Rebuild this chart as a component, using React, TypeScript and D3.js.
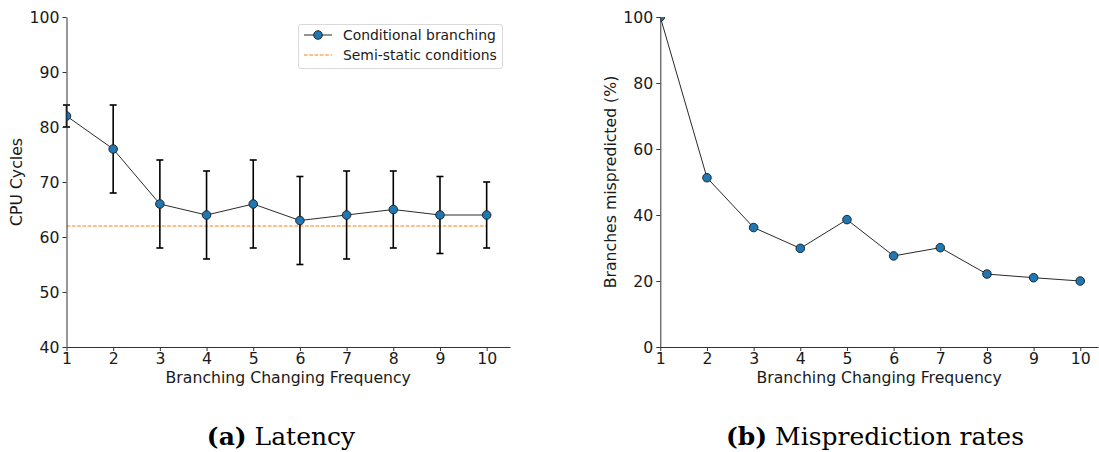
import React, { useEffect, useRef } from "react";
import * as d3 from "d3";

const freqs = [1, 2, 3, 4, 5, 6, 7, 8, 9, 10];
const latencyMean = [82, 76, 66, 64, 66, 63, 64, 65, 64, 64];
const latencyLow = [80, 68, 58, 56, 58, 55, 56, 58, 57, 58];
const latencyHigh = [84, 84, 74, 72, 74, 71, 72, 72, 71, 70];
const semiStatic = 62;
const mispredicted = [100, 51.3, 36.2, 29.9, 38.6, 27.6, 30.1, 22.1, 21.0, 20.0];
const latencyTicks = [40, 50, 60, 70, 80, 90, 100];
const mispTicks = [0, 20, 40, 60, 80, 100];

const W = 1099;
const H = 452;
const FONT = "'DejaVu Sans', sans-serif";
const BLUE = "#1f77b4";
const ORANGE = "#ff7f0e";
const FS = "15.7px";

export default function App() {
  const ref = useRef<SVGSVGElement | null>(null);

  useEffect(() => {
    const svg = d3.select(ref.current);
    svg.selectAll("*").remove();

    const defs = svg.append("defs");

    function panel(opts: {
      id: string;
      x0: number;
      x1: number;
      xMax: number;
      yDomain: [number, number];
      ticks: number[];
      ylabel: string;
      ylabelX: number;
      values: number[];
      low?: number[];
      high?: number[];
      hline?: number;
    }) {
      const top = 17;
      const bottom = 347;
      const x = d3.scaleLinear().domain([1, opts.xMax]).range([opts.x0, opts.x1]);
      const y = d3.scaleLinear().domain(opts.yDomain).range([bottom, top]);

      defs
        .append("clipPath")
        .attr("id", opts.id)
        .append("rect")
        .attr("x", opts.x0)
        .attr("y", top)
        .attr("width", opts.x1 - opts.x0)
        .attr("height", bottom - top);

      const g = svg.append("g");

      if (opts.hline !== undefined) {
        g.append("line")
          .attr("x1", x(1))
          .attr("x2", x(10))
          .attr("y1", y(opts.hline))
          .attr("y2", y(opts.hline))
          .attr("stroke", ORANGE)
          .attr("stroke-width", 1)
          .attr("stroke-dasharray", "3.7,1.6");
      }

      const line = d3
        .line<number>()
        .x((_, i) => x(freqs[i]))
        .y((d) => y(d));
      g.append("path")
        .attr("d", line(opts.values))
        .attr("fill", "none")
        .attr("stroke", "#2a2a2a")
        .attr("stroke-width", 1)
        .attr("clip-path", `url(#${opts.id})`);

      if (opts.low && opts.high) {
        const eg = g.append("g").attr("stroke", "#000").attr("stroke-width", 1.6);
        freqs.forEach((f, i) => {
          const cx = x(f);
          eg.append("line")
            .attr("x1", cx)
            .attr("x2", cx)
            .attr("y1", y(opts.low![i]))
            .attr("y2", y(opts.high![i]));
          [opts.low![i], opts.high![i]].forEach((v) => {
            eg.append("line")
              .attr("x1", cx - 3.5)
              .attr("x2", cx + 3.5)
              .attr("y1", y(v))
              .attr("y2", y(v));
          });
        });
      }

      g.append("g")
        .attr("clip-path", `url(#${opts.id})`)
        .selectAll("circle")
        .data(opts.values)
        .join("circle")
        .attr("cx", (_, i) => x(freqs[i]))
        .attr("cy", (d) => y(d))
        .attr("r", 4.3)
        .attr("fill", BLUE)
        .attr("stroke", "#1a1a1a")
        .attr("stroke-width", 0.9);

      const xAxis = d3
        .axisBottom(x)
        .tickValues(freqs)
        .tickSize(4)
        .tickPadding(2)
        .tickSizeOuter(0)
        .tickFormat(d3.format("d"));
      const yAxis = d3
        .axisLeft(y)
        .tickValues(opts.ticks)
        .tickSize(4)
        .tickPadding(3)
        .tickSizeOuter(0)
        .tickFormat(d3.format("d"));

      const xg = svg.append("g").attr("transform", `translate(0,${bottom})`).call(xAxis);
      const yg = svg.append("g").attr("transform", `translate(${opts.x0},0)`).call(yAxis);
      [xg, yg].forEach((a) => {
        a.attr("font-size", null).attr("font-family", null);
        a.selectAll("path").attr("stroke", "#333").attr("stroke-width", 1);
        a.selectAll("line").attr("stroke", "#333").attr("stroke-width", 1);
        a.selectAll("text")
          .attr("fill", "#1a1a1a")
          .style("font-family", FONT)
          .style("font-size", FS);
      });

      svg
        .append("text")
        .attr("x", (opts.x0 + opts.x1) / 2)
        .attr("y", 383)
        .attr("text-anchor", "middle")
        .attr("fill", "#1a1a1a")
        .style("font-family", FONT)
        .style("font-size", FS)
        .text("Branching Changing Frequency");

      svg
        .append("text")
        .attr("transform", `translate(${opts.ylabelX},${(top + bottom) / 2}) rotate(-90)`)
        .attr("text-anchor", "middle")
        .attr("fill", "#1a1a1a")
        .style("font-family", FONT)
        .style("font-size", FS)
        .text(opts.ylabel);

      return { x, y };
    }

    panel({
      id: "clipA",
      x0: 66.5,
      x1: 510,
      xMax: 10.5,
      yDomain: [40, 100],
      ticks: latencyTicks,
      ylabel: "CPU Cycles",
      ylabelX: 21.5,
      values: latencyMean,
      low: latencyLow,
      high: latencyHigh,
      hline: semiStatic,
    });

    panel({
      id: "clipB",
      x0: 660.3,
      x1: 1098,
      xMax: 10.38,
      yDomain: [0, 100],
      ticks: mispTicks,
      ylabel: "Branches mispredicted (%)",
      ylabelX: 616,
      values: mispredicted,
    });

    // legend
    const lg = svg.append("g");
    lg.append("rect")
      .attr("x", 298.5)
      .attr("y", 24.5)
      .attr("width", 204)
      .attr("height", 44)
      .attr("rx", 2.5)
      .attr("fill", "#fff")
      .attr("fill-opacity", 0.8)
      .attr("stroke", "#d9d9d9")
      .attr("stroke-width", 1);
    lg.append("line")
      .attr("x1", 304)
      .attr("x2", 332)
      .attr("y1", 35)
      .attr("y2", 35)
      .attr("stroke", "#2a2a2a")
      .attr("stroke-width", 1);
    lg.append("circle")
      .attr("cx", 318)
      .attr("cy", 35)
      .attr("r", 4.3)
      .attr("fill", BLUE)
      .attr("stroke", "#1a1a1a")
      .attr("stroke-width", 0.9);
    lg.append("line")
      .attr("x1", 304)
      .attr("x2", 332)
      .attr("y1", 55)
      .attr("y2", 55)
      .attr("stroke", ORANGE)
      .attr("stroke-width", 1)
      .attr("stroke-dasharray", "3.7,1.6");
    const legendItems = ["Conditional branching", "Semi-static conditions"];
    legendItems.forEach((t, i) => {
      lg.append("text")
        .attr("x", 343)
        .attr("y", 40 + i * 20)
        .attr("fill", "#1a1a1a")
        .style("font-family", FONT)
        .style("font-size", "13.9px")
        .text(t);
    });

    // captions
    const captions = [
      { bold: "(a)", rest: " Latency", cx: 281 },
      { bold: "(b)", rest: " Misprediction rates", cx: 875 },
    ];
    captions.forEach((c) => {
      const t = svg
        .append("text")
        .attr("x", c.cx)
        .attr("y", 445)
        .attr("text-anchor", "middle")
        .attr("fill", "#000")
        .style("font-family", "'DejaVu Serif', serif")
        .style("font-size", "25px");
      t.append("tspan").style("font-weight", "bold").text(c.bold);
      t.append("tspan").text(c.rest);
    });
  }, []);

  return (
    <svg
      ref={ref}
      width={W}
      height={H}
      style={{ position: "absolute", left: 0, top: 0, background: "#fff" }}
    />
  );
}
